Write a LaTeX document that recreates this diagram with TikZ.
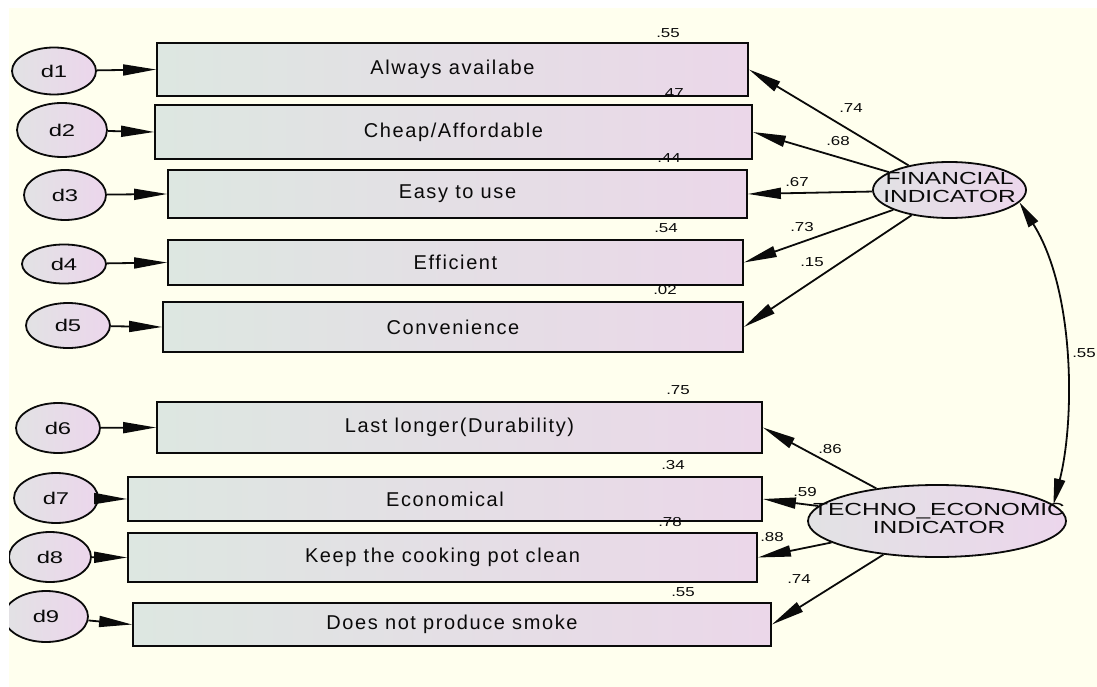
\documentclass[tikz,border=0pt]{standalone}
\usepackage{fontspec}
\setmainfont{Liberation Sans}
\newfontfamily\boxfont[LetterSpace=8]{Liberation Sans}
\usetikzlibrary{shapes.geometric,arrows.meta}
\definecolor{bg}{RGB}{255,255,238}
\definecolor{boxL}{RGB}{221,231,225}
\definecolor{boxR}{RGB}{235,215,233}
\definecolor{ellL}{RGB}{226,226,228}
\definecolor{ellR}{RGB}{236,214,236}
\definecolor{ink}{RGB}{10,10,10}
\newcommand{\dtxt}[1]{\scalebox{1.4}[1]{#1}}
\newcommand{\ntxt}[1]{\scalebox{1.3}[1]{#1}}
\newcommand{\ltxt}[2]{\scalebox{1.4}[1]{\begin{tabular}{@{}c@{}}#1\\#2\end{tabular}}}
\tikzset{
  obs/.style={rectangle, draw=ink, line width=1.8pt, left color=boxL, right color=boxR,
    inner sep=0pt, text=ink, font=\boxfont\fontsize{20}{22}\selectfont},
  err/.style={ellipse, draw=ink, line width=1.8pt, left color=ellL, right color=ellR,
    inner sep=0pt, text=ink, font=\fontsize{17}{19}\selectfont},
  lat/.style={ellipse, draw=ink, line width=1.8pt, left color=ellL, right color=ellR, inner sep=0pt},
  lattext/.style={inner sep=0pt, text=ink, font=\fontsize{17.5}{17}\selectfont},
  num/.style={inner sep=0pt, text=ink, font=\fontsize{13}{15}\selectfont},
  arr/.style={draw=ink, line width=1.8pt, -{Triangle[length=33pt,width=11pt]}},
  dbl/.style={draw=ink, line width=1.8pt, {Triangle[length=26pt,width=11pt]}-{Triangle[length=26pt,width=11pt]}}
}
\begin{document}
\begin{tikzpicture}[x=1pt,y=-1pt]
\useasboundingbox (0,0) rectangle (1097,687);
\fill[white] (0,0) rectangle (1097,687);
\fill[bg] (9,8) rectangle (1097,687);
\begin{scope}
\clip (9,8) rectangle (1097,687);
% observed variables
\node[obs, minimum width=591pt, minimum height=53pt] (b1) at (452.5,69.5) {Always availabe};
\node[obs, minimum width=597pt, minimum height=54pt] (b2) at (453.5,132) {Cheap/Affordable};
\node[obs, minimum width=579pt, minimum height=48pt] (b3) at (457.5,194) {Easy to use};
\node[obs, minimum width=575pt, minimum height=45pt] (b4) at (455.5,262.5) {Efficient};
\node[obs, minimum width=580pt, minimum height=50pt] (b5) at (453,327) {Convenience};
\node[obs, minimum width=605pt, minimum height=51pt] (b6) at (459.5,427.5) {Last longer(Durability)};
\node[obs, minimum width=634pt, minimum height=44pt] (b7) at (445,499) {Economical};
\node[obs, minimum width=629pt, minimum height=49pt] (b8) at (442.5,557.5) {Keep the cooking pot clean};
\node[obs, minimum width=638pt, minimum height=43pt] (b9) at (452,624.5) {Does not produce smoke};
% error terms
\node[err, minimum width=84pt, minimum height=47pt] (d1) at (54,71) {\dtxt{d1}};
\node[err, minimum width=90pt, minimum height=54pt] (d2) at (62,130) {\dtxt{d2}};
\node[err, minimum width=82pt, minimum height=50pt] (d3) at (65,195) {\dtxt{d3}};
\node[err, minimum width=84pt, minimum height=39pt] (d4) at (64,264) {\dtxt{d4}};
\node[err, minimum width=84pt, minimum height=45pt] (d5) at (68,325.5) {\dtxt{d5}};
\node[err, minimum width=84pt, minimum height=50pt] (d6) at (58,428) {\dtxt{d6}};
\node[err, minimum width=84pt, minimum height=50pt] (d7) at (56,498) {\dtxt{d7}};
\node[err, minimum width=82pt, minimum height=50pt] (d8) at (50,557) {\dtxt{d8}};
\node[err, minimum width=84pt, minimum height=51pt] (d9) at (46,616.5) {\dtxt{d9}};
% latent variables
\node[lat, minimum width=153pt, minimum height=56pt] (fin) at (949.5,190) {};
\node[lattext] (fint) at (fin) {\ltxt{FINANCIAL}{INDICATOR}};
\node[lat, minimum width=258pt, minimum height=72pt] (tech) at (937,521) {};
\node[lattext] (techt) at (939,521) {\ltxt{TECHNO\_ECONOMIC}{INDICATOR}};
% error arrows
\foreach \i in {1,...,9} { \draw[arr] (d\i) -- (b\i.west); }
% loadings
\foreach \i in {1,...,5} { \draw[arr] (fin) -- (b\i.east); }
\foreach \i in {6,...,9} { \draw[arr] (tech) -- (b\i.east); }
% covariance
\draw[dbl] (fin.-10) .. controls (1075,290) and (1075,420) .. (tech.8);
% R-squared labels
\node[num] (r1) at (668,33) {\ntxt{.55}};
\node[num] (r2) at (672,93) {\ntxt{.47}};
\node[num] (r3) at (669,158) {\ntxt{.44}};
\node[num] (r4) at (666,228) {\ntxt{.54}};
\node[num] (r5) at (665,290) {\ntxt{.02}};
\node[num] (r6) at (678,390) {\ntxt{.75}};
\node[num] (r7) at (673,465) {\ntxt{.34}};
\node[num] (r8) at (670,522) {\ntxt{.78}};
\node[num] (r9) at (683,592) {\ntxt{.55}};
% path labels
\node[num] (l1) at (851,108) {\ntxt{.74}};
\node[num] (l2) at (838,141) {\ntxt{.68}};
\node[num] (l3) at (797,182) {\ntxt{.67}};
\node[num] (l4) at (802,227) {\ntxt{.73}};
\node[num] (l5) at (812,262) {\ntxt{.15}};
\node[num] (l6) at (830,449) {\ntxt{.86}};
\node[num] (l7) at (805,492) {\ntxt{.59}};
\node[num] (l8) at (772,537) {\ntxt{.88}};
\node[num] (l9) at (799,579) {\ntxt{.74}};
\node[num] (lc) at (1084,353) {\ntxt{.55}};
\end{scope}
\end{tikzpicture}
\end{document}
